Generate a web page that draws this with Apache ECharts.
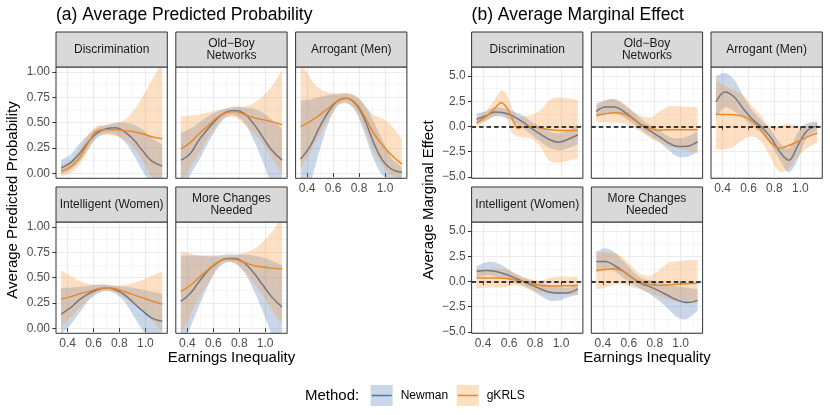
<!DOCTYPE html>
<html><head><meta charset="utf-8">
<script src="https://cdn.jsdelivr.net/npm/echarts@6/dist/echarts.min.js"></script>
<style>html,body{margin:0;padding:0;background:#fff}#c{width:830px;height:415px}</style>
</head><body><div id="c"></div>
<script>
// ---------- data ----------
const X = [0.35,0.42,0.49,0.56,0.63,0.70,0.77,0.84,0.91,0.98,1.05,1.13];
const FACETS = ['Discrimination','Old\u2212Boy\nNetworks','Arrogant (Men)','Intelligent (Women)','More Changes\nNeeded'];
const X_MAJOR = [0.4,0.6,0.8,1.0];
const X_MINOR = [0.5,0.7,0.9,1.1];
const YA_MAJOR = [0,0.25,0.5,0.75,1];
const YA_MINOR = [0.125,0.375,0.625,0.875];
const YB_MAJOR = [-5,-2.5,0,2.5,5];
const YB_MINOR = [-3.75,-1.25,1.25,3.75];
const METHODS = ['Newman','gKRLS'];

// (a) Average predicted probability
const A_DISC = {
  newman:   [0.05,0.10,0.19,0.31,0.40,0.44,0.45,0.41,0.33,0.22,0.12,0.07],
  newmanLo: [-0.01,0.03,0.11,0.24,0.35,0.39,0.38,0.31,0.18,0.02,-0.10,-0.15],
  newmanHi: [0.13,0.18,0.29,0.38,0.45,0.48,0.50,0.50,0.48,0.43,0.35,0.28],
  gkrls:    [0.02,0.06,0.15,0.30,0.42,0.43,0.43,0.42,0.41,0.39,0.36,0.34],
  gkrlsLo:  [-0.03,0.00,0.08,0.23,0.37,0.38,0.37,0.33,0.25,0.12,-0.05,-0.20],
  gkrlsHi:  [0.08,0.12,0.23,0.38,0.47,0.47,0.49,0.53,0.62,0.76,0.92,1.10]
};
const A_OLDBOY = {
  newman:   [0.13,0.19,0.33,0.44,0.54,0.605,0.62,0.59,0.49,0.36,0.23,0.13],
  newmanLo: [-0.15,-0.02,0.13,0.30,0.45,0.56,0.57,0.50,0.33,0.12,-0.10,-0.22],
  newmanHi: [0.40,0.44,0.50,0.56,0.61,0.64,0.66,0.65,0.64,0.60,0.53,0.44],
  gkrls:    [0.24,0.30,0.39,0.47,0.55,0.60,0.61,0.58,0.55,0.53,0.51,0.48],
  gkrlsLo:  [-0.08,0.05,0.20,0.35,0.48,0.55,0.55,0.48,0.40,0.30,0.15,0.00],
  gkrlsHi:  [0.56,0.57,0.58,0.60,0.62,0.64,0.65,0.66,0.69,0.76,0.86,1.02]
};
const A_ARROG = {
  newman:   [0.14,0.26,0.44,0.60,0.71,0.74,0.69,0.54,0.31,0.13,0.04,0.01],
  newmanLo: [-0.35,-0.12,0.20,0.48,0.66,0.70,0.62,0.40,0.15,-0.02,-0.06,-0.05],
  newmanHi: [0.72,0.73,0.75,0.77,0.78,0.79,0.76,0.68,0.52,0.33,0.15,0.06],
  gkrls:    [0.46,0.51,0.57,0.64,0.71,0.74,0.70,0.57,0.40,0.28,0.18,0.09],
  gkrlsLo:  [0.05,0.20,0.36,0.52,0.66,0.69,0.63,0.45,0.22,0.08,-0.02,-0.06],
  gkrlsHi:  [1.10,0.95,0.84,0.80,0.79,0.79,0.77,0.68,0.58,0.54,0.47,0.34]
};
const A_INTEL = {
  newman:   [0.14,0.20,0.28,0.34,0.38,0.40,0.38,0.33,0.25,0.17,0.10,0.07],
  newmanLo: [-0.06,0.03,0.15,0.27,0.34,0.37,0.34,0.26,0.12,-0.02,-0.12,-0.20],
  newmanHi: [0.40,0.40,0.41,0.42,0.43,0.43,0.42,0.41,0.40,0.38,0.36,0.34],
  gkrls:    [0.29,0.31,0.34,0.36,0.39,0.40,0.39,0.36,0.33,0.30,0.27,0.24],
  gkrlsLo:  [0.01,0.10,0.20,0.29,0.35,0.37,0.35,0.30,0.24,0.17,0.08,-0.03],
  gkrlsHi:  [0.57,0.52,0.47,0.44,0.43,0.43,0.42,0.43,0.45,0.48,0.52,0.56]
};
const A_MORE = {
  newman:   [0.265,0.34,0.46,0.57,0.645,0.69,0.69,0.645,0.55,0.43,0.31,0.21],
  newmanLo: [-0.20,0.00,0.22,0.42,0.58,0.65,0.64,0.55,0.38,0.17,-0.05,-0.25],
  newmanHi: [0.72,0.72,0.72,0.72,0.72,0.73,0.73,0.73,0.72,0.70,0.67,0.62],
  gkrls:    [0.365,0.42,0.50,0.58,0.65,0.685,0.68,0.65,0.62,0.605,0.595,0.585],
  gkrlsLo:  [-0.05,0.12,0.30,0.45,0.60,0.66,0.64,0.56,0.45,0.33,0.18,0.05],
  gkrlsHi:  [0.76,0.74,0.72,0.71,0.71,0.71,0.72,0.74,0.78,0.85,0.95,1.10]
};

// (b) Average marginal effect
const B_DISC_GX = [0.35,0.42,0.49,0.54,0.58,0.62,0.65,0.67,0.70,0.77,0.84,0.91,0.98,1.05,1.13];
const B_DISC = {
  newman:   [0.7,1.03,1.43,1.36,1.03,0.5,-0.17,-0.76,-1.3,-1.56,-1.3,-0.83],
  newmanLo: [0.2,0.6,1.0,0.9,0.5,-0.1,-0.8,-1.5,-2.1,-2.4,-2.2,-1.8],
  newmanHi: [1.3,1.5,1.9,1.8,1.5,1.1,0.5,0.0,-0.5,-0.7,-0.4,0.2],
  gkrlsX:   B_DISC_GX,
  gkrls:    [0.37,0.95,1.8,2.35,1.9,0.9,0.1,-0.2,-0.05,0.0,-0.15,-0.32,-0.4,-0.4,-0.38],
  gkrlsLo:  [0.0,0.5,1.0,1.2,0.8,-0.6,-0.9,-1.0,-1.1,-1.2,-2.0,-3.4,-3.6,-3.4,-3.2],
  gkrlsHi:  [0.9,1.5,2.7,3.6,3.2,1.9,1.2,0.9,1.0,1.1,1.6,2.6,2.9,2.8,2.6]
};
const B_OLDBOY = {
  newman:   [1.5,1.93,1.93,1.5,0.83,0.1,-0.5,-1.06,-1.66,-2.0,-1.96,-1.5],
  newmanLo: [0.9,1.2,1.3,0.9,0.3,-0.4,-1.0,-1.6,-2.4,-3.0,-3.0,-2.6],
  newmanHi: [2.3,2.6,2.7,2.2,1.5,0.7,0.1,-0.45,-1.0,-1.2,-1.0,-0.5],
  gkrls:    [1.1,1.26,1.36,1.26,0.76,0.17,-0.23,-0.37,-0.33,-0.33,-0.33,-0.33],
  gkrlsLo:  [0.4,0.45,0.4,0.3,-0.1,-0.6,-1.2,-1.6,-2.0,-2.2,-2.4,-2.6],
  gkrlsHi:  [2.0,2.6,2.7,2.3,1.5,1.0,0.9,1.5,2.0,2.0,1.95,1.9]
};
const B_ARROG = {
  newman:   [2.43,3.42,2.92,1.76,0.7,-0.07,-1.06,-2.5,-3.35,-1.9,-0.45,0.03],
  newmanLo: [0.9,1.9,1.5,0.8,0.0,-0.7,-1.8,-3.3,-4.55,-3.3,-1.1,-0.4],
  newmanHi: [5.0,5.3,4.6,3.0,1.6,0.6,-0.3,-1.6,-2.2,-0.6,0.3,0.5],
  gkrls:    [1.2,1.18,1.15,1.0,0.5,-0.4,-1.56,-2.16,-1.9,-1.5,-1.06,-0.66],
  gkrlsLo:  [-2.3,-2.3,-2.0,-1.3,-1.0,-1.5,-3.1,-4.5,-4.2,-3.0,-2.2,-1.6],
  gkrlsHi:  [4.5,4.0,3.6,3.1,2.0,1.0,-0.05,0.0,0.3,-0.1,0.1,0.4]
};
const B_INTEL = {
  newman:   [1.0,1.09,1.02,0.76,0.43,0.03,-0.33,-0.73,-1.06,-1.15,-1.12,-0.73],
  newmanLo: [0.4,0.6,0.5,0.3,0.0,-0.35,-0.8,-1.4,-1.9,-1.9,-1.6,-1.3],
  newmanHi: [1.5,1.9,1.9,1.5,0.9,0.45,0.15,-0.1,-0.35,-0.5,-0.6,-0.2],
  gkrls:    [0.33,0.33,0.33,0.32,0.2,0.02,-0.2,-0.4,-0.45,-0.45,-0.42,-0.4],
  gkrlsLo:  [-0.7,-0.6,-0.6,-0.6,-0.4,-0.5,-0.9,-1.1,-1.2,-1.2,-1.3,-1.3],
  gkrlsHi:  [1.2,1.2,1.2,1.2,0.9,0.5,0.2,0.1,0.35,0.5,0.5,0.45]
};
const B_MORE = {
  newman:   [1.98,1.98,1.58,0.99,0.33,-0.23,-0.56,-0.99,-1.45,-1.88,-2.1,-1.88],
  newmanLo: [0.9,1.2,1.0,0.3,-0.3,-0.8,-1.3,-2.0,-2.8,-3.6,-3.7,-2.9],
  newmanHi: [3.0,3.3,2.9,2.0,1.0,0.3,0.1,-0.1,-0.3,-0.5,-0.6,-0.8],
  gkrls:    [1.09,1.19,1.25,0.99,0.33,-0.13,-0.33,-0.4,-0.33,-0.26,-0.23,-0.17],
  gkrlsLo:  [-0.8,-0.6,-0.3,-0.3,-0.6,-0.8,-1.2,-1.5,-1.8,-2.0,-2.1,-2.2],
  gkrlsHi:  [2.9,2.9,2.8,2.3,1.4,0.7,0.6,1.2,1.9,2.0,2.1,2.1]
};

// ---------- layout & style ----------
const FONT = '"Liberation Sans", Arial, Helvetica, sans-serif';
const NEWMAN_LINE = '#3B6BA0';
const GKRLS_LINE = '#E8892D';
const NEWMAN_FILL = 'rgba(75,122,178,0.3)';
const GKRLS_FILL = 'rgba(248,152,58,0.3)';
const COLX = {a: [56, 175.8, 295.6], b: [471.6, 591.3, 711]};
const PLOT_TOP = [67, 222];
const PW = 111.3, PH = 111.3, SH = 35;
const XR = [0.311, 1.169];
const YR = {a: [-0.05, 1.05], b: [-5.15, 5.9]};

const panels = [];
[['a', [A_DISC, A_OLDBOY, A_ARROG, A_INTEL, A_MORE]], ['b', [B_DISC, B_OLDBOY, B_ARROG, B_INTEL, B_MORE]]]
  .forEach(([side, list]) => list.forEach((d, i) => panels.push({
    side, d, title: FACETS[i], row: i < 3 ? 0 : 1, col: i < 3 ? i : i - 3
  })));

const grids = [], xAxes = [], yAxes = [], series = [], graphics = [];
const fmtX = v => v.toFixed(1);
const fmtYa = v => v.toFixed(2);
const fmtYb = v => (v < 0 ? '\u2212' : '') + Math.abs(v).toFixed(1);

function ribbon(gi, xs, lo, hi, fill, name, z) {
  const pts = xs.map((x, i) => [x, lo[i], hi[i]]);
  return {
    type: 'custom', name, xAxisIndex: 2 * gi, yAxisIndex: 2 * gi, clip: true, silent: true, z,
    data: pts, encode: {x: 0, y: [1, 2]},
    renderItem: function (params, api) {
      if (params.dataIndex !== 0) return null;
      const up = pts.map(p => api.coord([p[0], p[2]]));
      const dn = pts.map(p => api.coord([p[0], p[1]])).reverse();
      const poly = [up[0]].concat(up, [up[up.length - 1], dn[0]], dn, [dn[dn.length - 1]]);
      return {type: 'polygon', shape: {points: poly, smooth: 0.35}, style: {fill: fill, stroke: null}};
    }
  };
}
function line(gi, xs, ys, color, name, z, zeroLine) {
  const s = {
    type: 'line', name, xAxisIndex: 2 * gi, yAxisIndex: 2 * gi, silent: true, z,
    data: xs.map((x, i) => [x, ys[i]]), showSymbol: false, symbol: 'none', smooth: 0.4,
    lineStyle: {color, width: 1.5}, itemStyle: {color}
  };
  if (zeroLine) s.markLine = {
    silent: true, symbol: ['none', 'none'], label: {show: false}, z: 6,
    lineStyle: {color: '#000', type: [4.5, 3], width: 1.5}, data: [{yAxis: 0}]
  };
  return s;
}

panels.forEach((p, gi) => {
  const left = COLX[p.side][p.col], top = PLOT_TOP[p.row];
  grids.push({left, top, width: PW, height: PH, show: false});
  const showX = p.row === 1 || p.col === 2;
  const showY = p.col === 0;
  const yr = YR[p.side];
  const yMaj = p.side === 'a' ? YA_MAJOR : YB_MAJOR;
  const yMin = p.side === 'a' ? YA_MINOR : YB_MINOR;
  const lab = {fontSize: 12, color: '#4D4D4D', fontFamily: FONT};
  xAxes.push({
    gridIndex: gi, type: 'value', min: XR[0], max: XR[1], position: 'bottom',
    axisLine: {show: false},
    axisTick: {show: showX, customValues: X_MAJOR, length: 3.7, lineStyle: {color: '#333', width: 1}},
    axisLabel: Object.assign({show: showX, customValues: X_MAJOR, formatter: fmtX, margin: 4.5}, lab),
    splitLine: {show: true, lineStyle: {color: '#EBEBEB', width: 1.2}}
  });
  xAxes.push({
    gridIndex: gi, type: 'value', min: XR[0], max: XR[1], position: 'top',
    axisLine: {show: false}, axisTick: {show: false, customValues: X_MINOR},
    axisLabel: {show: false, customValues: X_MINOR},
    splitLine: {show: true, lineStyle: {color: '#F2F2F2', width: 0.7}}
  });
  yAxes.push({
    gridIndex: gi, type: 'value', min: yr[0], max: yr[1], position: 'left',
    axisLine: {show: false},
    axisTick: {show: showY, customValues: yMaj, length: 3.7, lineStyle: {color: '#333', width: 1}},
    axisLabel: Object.assign({show: showY, customValues: yMaj, formatter: p.side === 'a' ? fmtYa : fmtYb, margin: 6}, lab),
    splitLine: {show: true, lineStyle: {color: '#EBEBEB', width: 1.2}}
  });
  yAxes.push({
    gridIndex: gi, type: 'value', min: yr[0], max: yr[1], position: 'right',
    axisLine: {show: false}, axisTick: {show: false, customValues: yMin},
    axisLabel: {show: false, customValues: yMin},
    splitLine: {show: true, lineStyle: {color: '#F2F2F2', width: 0.7}}
  });
  const d = p.d, gx = d.gkrlsX || X;
  series.push(ribbon(gi, X, d.newmanLo, d.newmanHi, NEWMAN_FILL, METHODS[0], 1));
  series.push(line(gi, X, d.newman, NEWMAN_LINE, METHODS[0], 2, false));
  series.push(ribbon(gi, gx, d.gkrlsLo, d.gkrlsHi, GKRLS_FILL, METHODS[1], 3));
  series.push(line(gi, gx, d.gkrls, GKRLS_LINE, METHODS[1], 4, p.side === 'b'));

  graphics.push({type: 'rect', silent: true, z: 100, shape: {x: left, y: top, width: PW, height: PH},
    style: {fill: null, stroke: '#333333', lineWidth: 1}});
  graphics.push({type: 'rect', silent: true, z: 100, shape: {x: left, y: top - SH, width: PW, height: SH},
    style: {fill: '#D9D9D9', stroke: '#333333', lineWidth: 1}});
  graphics.push({type: 'text', silent: true, z: 101, x: left + PW / 2, y: top - SH / 2,
    style: {text: p.title, fill: '#1A1A1A', fontSize: 12, fontFamily: FONT, align: 'center', verticalAlign: 'middle', lineHeight: 12.5}});
});

function txt(text, x, y, size, align, rot) {
  return {type: 'text', silent: true, z: 101, x, y, rotation: rot || 0,
    style: {text, fill: '#000', fontSize: size, fontFamily: FONT, align: align || 'center', verticalAlign: 'middle'}};
}
graphics.push(txt('(a) Average Predicted Probability', 56, 15.5, 17.5, 'left'));
graphics.push(txt('(b) Average Marginal Effect', 471.6, 15.5, 17.5, 'left'));
graphics.push(txt('Average Predicted Probability', 13, 200, 15, 'center', Math.PI / 2));
graphics.push(txt('Average Marginal Effect', 429, 200, 15, 'center', Math.PI / 2));
graphics.push(txt('Earnings Inequality', 231.5, 358, 15));
graphics.push(txt('Earnings Inequality', 647, 358, 15));
// legend
graphics.push(txt('Method:', 305, 395.5, 15, 'left'));
[[370.7, 'rgb(201,215,232)', '#4F74A5', METHODS[0], 400.7], [456.7, 'rgb(253,224,194)', GKRLS_LINE, METHODS[1], 486.7]]
  .forEach(([kx, fill, lc, name, tx]) => {
    graphics.push({type: 'rect', silent: true, shape: {x: kx, y: 385, width: 22, height: 21}, style: {fill, stroke: null}});
    graphics.push({type: 'line', silent: true, shape: {x1: kx + 1, y1: 395.5, x2: kx + 21, y2: 395.5}, style: {stroke: lc, lineWidth: 1.5}});
    graphics.push(txt(name, tx, 395.5, 12, 'left'));
  });

const chart = echarts.init(document.getElementById('c'), null, {renderer: 'canvas'});
chart.setOption({
  animation: false,
  backgroundColor: '#fff',
  textStyle: {fontFamily: FONT},
  grid: grids, xAxis: xAxes, yAxis: yAxes, series, graphic: graphics
});
</script></body></html>
